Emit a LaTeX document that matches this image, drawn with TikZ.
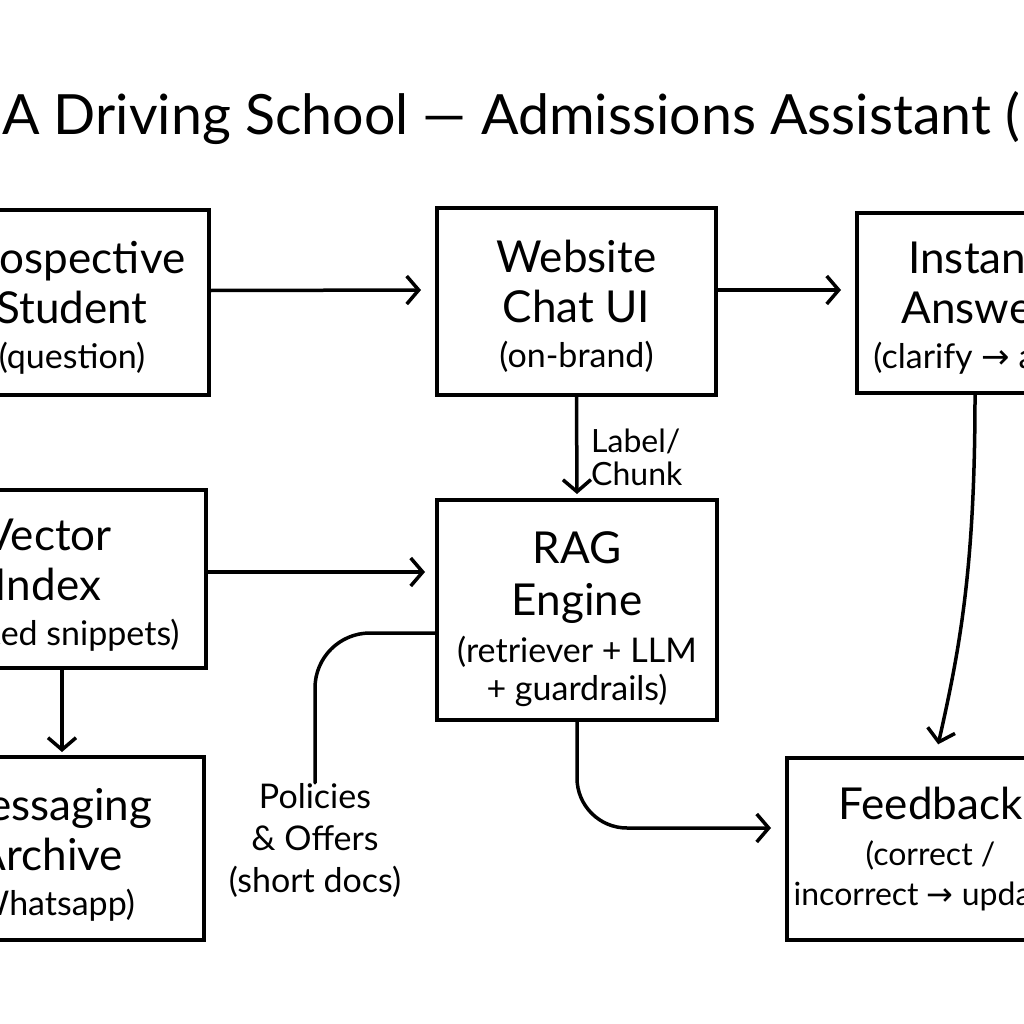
\documentclass[tikz,border=0pt]{standalone}
\usepackage{fontspec}
\setmainfont{Lato}
\newfontfamily\arrowfont{DejaVu Sans}
\usetikzlibrary{arrows.meta}
\newcommand\subfnt{\fontsize{34}{40}\selectfont}
\newcommand\smfnt{\fontsize{32}{40}\selectfont}
\newcommand\toprule[1]{\rule{0pt}{#1}}
\begin{document}
\begin{tikzpicture}[x=1pt,y=-1pt,
  box/.style={draw, line width=4pt, align=center, inner sep=0pt, font=\fontsize{44}{50}\selectfont},
  plain/.style={align=center, inner sep=0pt},
  conn/.style={line width=3.5pt, line cap=round, -{Straight Barb[length=12pt,width=28pt,line width=3.5pt]}},
  wire/.style={line width=3.5pt, line cap=round}]
\useasboundingbox (0,0) rectangle (1024,1024);
\clip (0,0) rectangle (1024,1024);
\fill[white] (0,0) rectangle (1024,1024);

\node[plain, anchor=west, font=\fontsize{55.5}{60}\selectfont] (title) at (2,118) {A Driving School — Admissions Assistant (RAG)};

\node[box, minimum width=274pt, minimum height=185pt] (ps) at (72,302.5) {\toprule{42pt}Prospective\\Student\\[-5pt]\subfnt (question)};
\node[box, minimum width=279pt, minimum height=187pt] (web) at (576.5,301.5) {\toprule{42pt}Website\\Chat UI\\[-5pt]\subfnt (on-brand)};
\node[box, minimum width=236pt, minimum height=180pt] (inst) at (975,303) {\toprule{42pt}Instant\\Answer\\[-5pt]\subfnt (clarify~{\arrowfont →}~ask)};
\node[box, minimum width=316pt, minimum height=178pt] (vi) at (48,579) {\toprule{44pt}Vector\\Index\\[-5pt]\subfnt (curated snippets)};
\node[box, minimum width=280pt, minimum height=220pt] (rag) at (577,610) {\toprule{51pt}RAG\\[2pt]Engine\\[-3pt]\subfnt (retriever + LLM\\[-12pt]\subfnt + guardrails)};
\node[box, minimum width=308pt, minimum height=183pt] (msg) at (50,848.5) {\toprule{44pt}Messaging\\Archive\\[-5pt]\subfnt (Whatsapp)};
\node[box, minimum width=287pt, minimum height=182pt] (fb) at (930.5,849) {Feedback\\[-4pt]\smfnt (correct /\\[-10pt]\smfnt incorrect {\arrowfont →} update)};

\node[plain, font=\fontsize{34}{42}\selectfont] (pol) at (315,840) {Policies\\\& Offers\\(short docs)};
\node[plain, align=left, anchor=west, font=\fontsize{32}{33}\selectfont] (lbl) at (591,457) {Label/\\Chunk};

\draw[conn, shorten >=14pt] ([yshift=12pt]ps.east) -- ([yshift=11.5pt]web.west);
\draw[conn, shorten >=14pt] ([yshift=11.5pt]web.east) -- ([yshift=13pt]inst.west);
\draw[conn, shorten >=4pt] (web.south) -- (rag.north);
\draw[conn, shorten >=10pt] ([yshift=7pt]vi.east) -- ([yshift=38pt]rag.west);
\draw[conn, shorten >=3pt] ([xshift=14pt]vi.south) -- ([xshift=12pt]msg.north);
\draw[wire, rounded corners=55pt] (pol.north) |- ([yshift=-23pt]rag.west);
\draw[conn, rounded corners=50pt, shorten >=14pt] (rag.south) |- ([yshift=21pt]fb.west);
\draw[conn, shorten >=12pt] (inst.south) .. controls +(0,170) and +(25,-110) .. ([xshift=5pt]fb.north);
\end{tikzpicture}
\end{document}
